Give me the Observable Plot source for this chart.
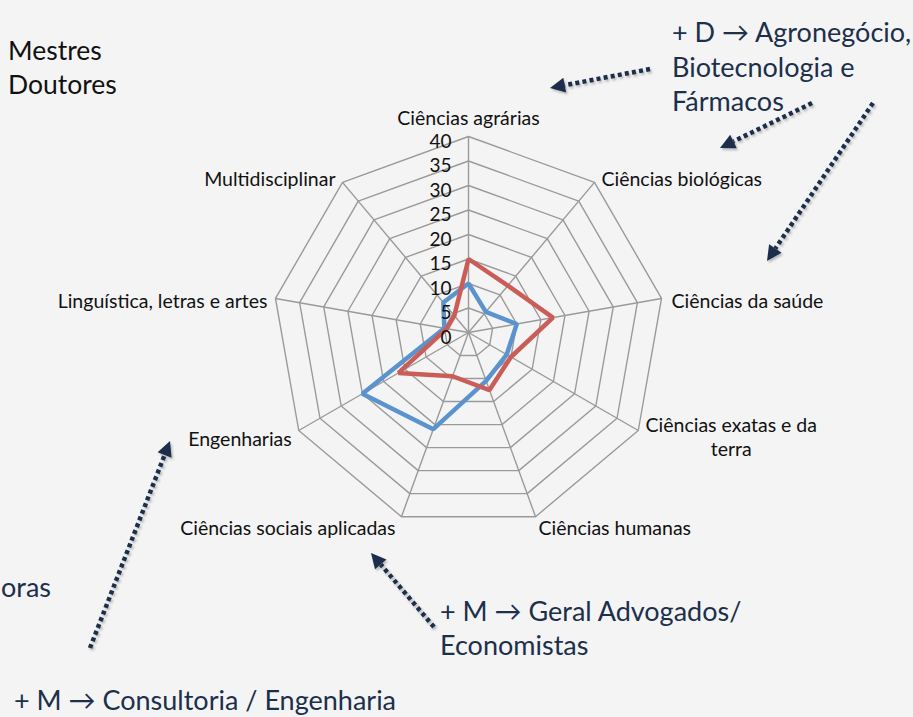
<!DOCTYPE html>
<html>
<head>
<meta charset="utf-8">
<script src="https://cdn.jsdelivr.net/npm/d3@7"></script>
<script src="https://cdn.jsdelivr.net/npm/@observablehq/plot@0.6"></script>
<style>
  html, body { margin: 0; padding: 0; background: #f4f4f4; width: 913px; height: 717px; overflow: hidden; }
  #wrap { position: relative; width: 913px; height: 717px; }
  #chart, #over { position: absolute; left: 0; top: 0; }
  svg { font-family: Lato, "Open Sans", sans-serif; }
</style>
</head>
<body>
<div id="wrap"><div id="chart"></div><svg id="over" width="913" height="717"></svg></div>
<script>
// ---- data ----
const categories = [
  "Ciências agrárias",
  "Ciências biológicas",
  "Ciências da saúde",
  "Ciências exatas e da terra",
  "Ciências humanas",
  "Ciências sociais aplicadas",
  "Engenharias",
  "Linguística, letras e artes",
  "Multidisciplinar"
];
const mestres  = [10, 5.5, 10, 9, 10.5, 21, 25, 5, 8];
const doutores = [15, 12.5, 17.5, 10, 12.5, 9.5, 16.5, 4.5, 4.5];
const seriesNames = ["Mestres", "Doutores"];
const ticks = [0, 5, 10, 15, 20, 25, 30, 35, 40];

const annotationLines = [
  ["+ D \u2192 Agronegócio,", "Biotecnologia e", "Fármacos"],
  ["+ M \u2192 Geral Advogados/", "Economistas"],
  ["+ M \u2192 Consultoria / Engenharia"],
  ["oras"]
];

// ---- geometry helpers ----
const n = categories.length;
const maxV = 40;
const W = 913, H = 717, cx = 468, cy = 332, k = 196 / maxV;
const ang = i => i * 2 * Math.PI / n;
const px = (i, v) => v * Math.sin(ang(i));
const py = (i, v) => v * Math.cos(ang(i));

const seriesRows = [];
[mestres, doutores].forEach((vals, s) => {
  vals.forEach((v, i) => seriesRows.push({series: seriesNames[s], cat: categories[i], i, v}));
});
const ringRows = [];
ticks.filter(t => t > 0).forEach(t => categories.forEach((c, i) => ringRows.push({t, i})));
const spokes = categories.map((c, i) => ({i}));

const colors = {Mestres: "#5b93cf", Doutores: "#cb5d58"};

// label style per axis (anchor, dx, dy, wrap)
const labelStyle = [
  ["middle", 0, -19, null], ["start", 7, -4, null], ["start", 10, 2, null], ["middle", 93, 6, 10],
  ["start", 3, 11, null], ["end", -6, 11, null], ["end", -7, 8, null], ["end", -8, 2, null], ["end", -7, -4, null]
];

const labelMarks = categories.map((c, i) => {
  const [anchor, dx, dy, wrap] = labelStyle[i];
  const opts = {
    x: d => px(d.i, maxV), y: d => py(d.i, maxV),
    text: d => d.c, textAnchor: anchor, dx, dy,
    fontSize: 19.5, fill: "#111", lineHeight: 1.22
  };
  if (wrap) opts.lineWidth = wrap;
  return Plot.text([{c, i}], opts);
});

const chart = Plot.plot({
  width: W, height: H,
  margin: 0,
  x: {domain: [-cx / k, (W - cx) / k], axis: null},
  y: {domain: [-(H - cy) / k, cy / k], axis: null},
  style: {background: "transparent", fontFamily: "Lato, 'Open Sans', sans-serif"},
  marks: [
    Plot.line(ringRows, {x: d => px(d.i, d.t), y: d => py(d.i, d.t), z: "t",
      curve: "linear-closed", stroke: "#9a9a9a", strokeWidth: 1.4}),
    Plot.link(spokes, {x1: 0, y1: 0, x2: d => px(d.i, maxV), y2: d => py(d.i, maxV),
      stroke: "#9a9a9a", strokeWidth: 1.4}),
    Plot.line(seriesRows, {x: d => px(d.i, d.v), y: d => py(d.i, d.v), z: "series",
      stroke: d => colors[d.series], curve: "linear-closed", strokeWidth: 4.5,
      strokeLinejoin: "miter"}),
    Plot.text(ticks, {x: 0, y: d => d, text: d => String(d), textAnchor: "end",
      dx: -17, dy: 5, fontSize: 19, fill: "#111"}),
    ...labelMarks
  ]
});
document.getElementById("chart").appendChild(chart);

// ---- slide annotations overlay ----
const over = d3.select("#over");
const navy = "#1c2f4b";
const defs = over.append("defs");
defs.append("filter").attr("id", "sh").attr("x", "-20%").attr("y", "-20%").attr("width", "140%").attr("height", "140%")
  .append("feDropShadow").attr("dx", 1.5).attr("dy", 2).attr("stdDeviation", 1.2).attr("flood-color", "#000").attr("flood-opacity", 0.25);

// legend text
over.append("text").attr("x", 8).attr("y", 60).attr("font-size", 26.5).attr("fill", "#111").text(seriesNames[0]);
over.append("text").attr("x", 8).attr("y", 94).attr("font-size", 26.5).attr("fill", "#111").text(seriesNames[1]);

function block(lines, x, y0, lh, size) {
  lines.forEach((t, j) => over.append("text").attr("x", x).attr("y", y0 + j * lh)
    .attr("font-size", size).attr("fill", navy).text(t));
}
block(annotationLines[0], 672, 42, 34.5, 27);
block(annotationLines[1], 440, 621, 34, 27);
block(annotationLines[2], 14, 710, 34, 27);
block(annotationLines[3], 1, 597, 34, 27);

function arrow(x1, y1, x2, y2) {
  const g = over.append("g").attr("filter", "url(#sh)");
  const a = Math.atan2(y2 - y1, x2 - x1);
  const hl = 15, hw = 7.5;
  const bx = x2 - hl * Math.cos(a), by = y2 - hl * Math.sin(a);
  g.append("line").attr("x1", x1).attr("y1", y1).attr("x2", bx).attr("y2", by)
    .attr("stroke", navy).attr("stroke-width", 4.5).attr("stroke-dasharray", "4 3.2");
  const p = [[x2, y2],
    [bx + hw * Math.sin(a), by - hw * Math.cos(a)],
    [bx - hw * Math.sin(a), by + hw * Math.cos(a)]];
  g.append("path").attr("d", "M" + p.map(q => q.join(",")).join("L") + "Z").attr("fill", navy);
}
arrow(650, 69, 550, 88);
arrow(812, 103, 720, 148);
arrow(873, 103, 767, 261);
arrow(90, 648, 170, 441);
arrow(434, 627, 371, 553);
</script>
</body>
</html>
